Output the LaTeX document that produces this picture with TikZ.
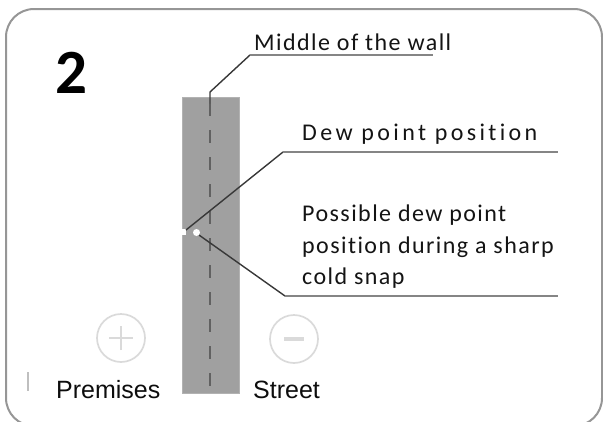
\documentclass[tikz,border=0pt]{standalone}
\usepackage{fontspec}
\setmainfont{Carlito}
\newfontfamily\calfont[LetterSpace=6,Ligatures={NoCommon}]{Carlito}
\newfontfamily\calwide[LetterSpace=14,Ligatures={NoCommon}]{Carlito}
\newfontfamily\calplain{Carlito}
\newfontfamily\arialfont{Liberation Sans}
\definecolor{wallgray}{RGB}{160,160,160}
\definecolor{walledge}{RGB}{178,178,178}
\definecolor{framegray}{RGB}{150,150,150}
\definecolor{icongray}{RGB}{218,218,218}
\begin{document}
\begin{tikzpicture}[x=1pt,y=-1pt,
  leader/.style={draw=black!78, line width=1.4pt},
  shelf/.style={draw=black!48, line width=1.9pt},
  lbl/.style={anchor=base west, inner sep=0pt, text=black!92, font=\calfont\fontsize{24}{29}\selectfont},
  side/.style={anchor=base west, inner sep=0pt, text=black!95, font=\arialfont\fontsize{25}{30}\selectfont},
  icon/.style={draw=icongray, line width=1.7pt}]
\useasboundingbox (0,0) rectangle (603,421);
% frame
\draw[draw=framegray, line width=2pt, rounded corners=28pt] (6,9) rectangle (602,426);
\draw[draw=black!25, line width=1.5pt] (28,372) -- (28,391);
% wall
\fill[wallgray, draw=walledge, line width=0.8pt] (182,97) rectangle (239,393);
\fill[white] (180,229) rectangle (186,235);
\draw[draw=black!62, line width=1.6pt, dash pattern=on 13pt off 14pt, dash phase=-6pt] (210,97) -- (210,393);
% number
\node[anchor=base west, inner sep=0pt, font=\calplain\bfseries\fontsize{63}{63}\selectfont] (num) at (55,93) {2};
% labels
\node[lbl] (tmid) at (254,50) {Middle of the wall};
\node[lbl, font=\calwide\fontsize{24}{29}\selectfont] (tdew) at (302,140) {Dew point position};
\node[lbl] (tp1) at (302,221) {Possible dew point};
\node[lbl] (tp2) at (302,253) {position during a sharp};
\node[lbl] (tp3) at (302,284) {cold snap};
\node[side] (tprem) at (56,398) {Premises};
\node[side] (tstr) at (253,398) {Street};
% leader coordinates
\coordinate (m0) at (210,103);
\coordinate (m1) at (210,92);
\coordinate (m2) at (250,55);
\coordinate (m3) at (433,55);
\coordinate (d0) at (186,230);
\coordinate (d1) at (283,152);
\coordinate (d2) at (558,152);
\coordinate (p1) at (285,296);
\coordinate (p2) at (558,296);
% dot
\node[circle, fill=white, inner sep=0pt, minimum size=7pt] (dot) at (196.5,232.5) {};
% leaders
\draw[leader] (m0) -- (m1) -- (m2);
\draw[shelf] (m2) -- (m3);
\draw[leader] (d0) -- (d1);
\draw[shelf] (d1) -- (d2);
\draw[leader] (dot.south east) -- (p1);
\draw[shelf] (p1) -- (p2);
% icons
\node[circle, icon, minimum size=48pt, inner sep=0pt] (plus) at (121,338) {};
\draw[icon, line width=1.5pt] ([xshift=-12pt]plus.center) -- ([xshift=12pt]plus.center);
\draw[icon, line width=1.5pt] ([yshift=-12pt]plus.center) -- ([yshift=12pt]plus.center);
\node[circle, icon, minimum size=48pt, inner sep=0pt] (minus) at (294,339) {};
\draw[icon, line width=4pt] ([xshift=-10pt]minus.center) -- ([xshift=10pt]minus.center);
\end{tikzpicture}
\end{document}
